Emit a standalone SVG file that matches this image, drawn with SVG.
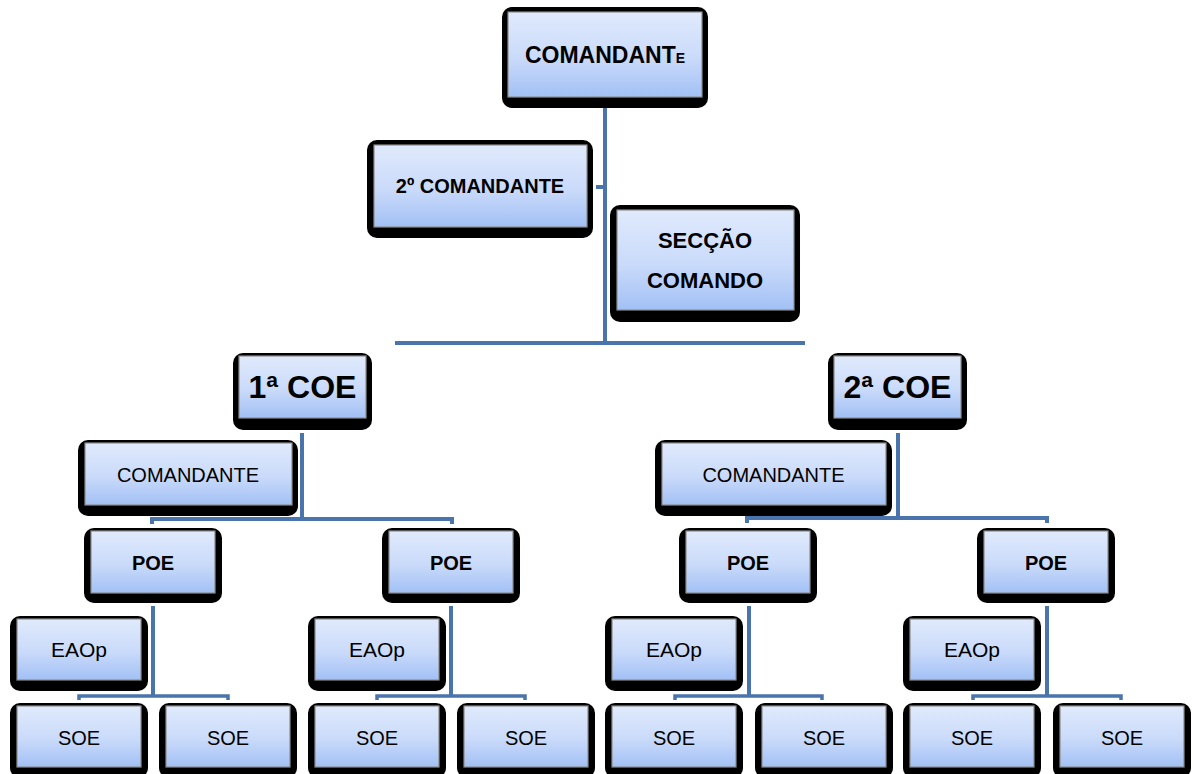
<svg xmlns="http://www.w3.org/2000/svg" width="1195" height="774" viewBox="0 0 1195 774">
<defs>
<linearGradient id="fill" x1="0" y1="0" x2="0" y2="1">
<stop offset="0" stop-color="#e0eafc"/>
<stop offset="0.55" stop-color="#c9dafa"/>
<stop offset="1" stop-color="#a2c0f5"/>
</linearGradient>
<style>
.outer{fill:#000}
.inner{fill:url(#fill);stroke:#8c8c8c;stroke-width:1.2}
.t{font-family:"Liberation Sans",Arial,sans-serif;fill:#000;text-anchor:middle}
.b{font-weight:bold}
.con{fill:none;stroke:#4a74ac;stroke-width:4}
.con3{fill:none;stroke:#4a74ac;stroke-width:3.5}
</style>
</defs>
<rect width="1195" height="774" fill="#fff"/>

<g id="connectors">
<path class="con" d="M605,108 V345"/>
<path class="con" d="M596,187 H605"/>
<path class="con" d="M395,343 H805"/>
<path class="con" d="M302,433 V519"/>
<path class="con" d="M152,524 V519 H452 V524"/>
<path class="con" d="M898,433 V518"/>
<path class="con" d="M747,523 V518 H1047 V523"/>
<path class="con" d="M153,606 V696"/>
<path class="con3" d="M79,700 V696 H228 V700"/>
<path class="con" d="M451,606 V696"/>
<path class="con3" d="M377,700 V696 H525 V700"/>
<path class="con" d="M749,606 V696"/>
<path class="con3" d="M675,700 V696 H822 V700"/>
<path class="con" d="M1047,606 V696"/>
<path class="con3" d="M973,700 V696 H1121 V700"/>
</g>

<g id="comandante">
<rect class="outer" x="502" y="7" width="206" height="101" rx="10"/>
<rect class="inner" x="508" y="12" width="194" height="85"/>
<text class="t b" x="605" y="63" font-size="23">COMANDANT<tspan font-size="14">E</tspan></text>
</g>

<g id="segundo-comandante">
<rect class="outer" x="367" y="140" width="226" height="98" rx="10"/>
<rect class="inner" x="374" y="145" width="213" height="82"/>
<text class="t b" x="480" y="193" font-size="20">2º COMANDANTE</text>
</g>

<g id="seccao-comando">
<rect class="outer" x="610" y="205" width="190" height="117" rx="10"/>
<rect class="inner" x="617" y="210" width="177" height="100"/>
<text class="t b" x="705" y="248" font-size="22">SECÇÃO</text>
<text class="t b" x="705" y="288" font-size="22">COMANDO</text>
</g>

<g id="coe1">
<rect class="outer" x="233" y="353" width="139" height="77" rx="10"/>
<rect class="inner" x="239" y="356" width="127" height="62"/>
<text class="t b" x="302.5" y="398" font-size="32">1ª COE</text>
</g>

<g id="coe2">
<rect class="outer" x="828" y="353" width="139" height="77" rx="10"/>
<rect class="inner" x="834" y="356" width="127" height="62"/>
<text class="t b" x="897.5" y="398" font-size="32">2ª COE</text>
</g>

<g id="comandante-coe1">
<rect class="outer" x="78" y="440" width="220" height="76" rx="10"/>
<rect class="inner" x="85" y="443" width="207" height="62"/>
<text class="t" x="188" y="482" font-size="20">COMANDANTE</text>
</g>

<g id="comandante-coe2">
<rect class="outer" x="655" y="440" width="237" height="76" rx="10"/>
<rect class="inner" x="662" y="443" width="224" height="62"/>
<text class="t" x="773.5" y="482" font-size="20">COMANDANTE</text>
</g>

<g id="poe1">
<rect class="outer" x="84" y="528" width="138" height="75" rx="10"/>
<rect class="inner" x="91" y="531" width="124" height="62"/>
<text class="t b" x="153" y="570" font-size="20">POE</text>
</g>
<g id="poe2">
<rect class="outer" x="382" y="528" width="138" height="75" rx="10"/>
<rect class="inner" x="389" y="531" width="124" height="62"/>
<text class="t b" x="451" y="570" font-size="20">POE</text>
</g>
<g id="poe3">
<rect class="outer" x="679" y="528" width="138" height="75" rx="10"/>
<rect class="inner" x="686" y="531" width="124" height="62"/>
<text class="t b" x="748" y="570" font-size="20">POE</text>
</g>
<g id="poe4">
<rect class="outer" x="977" y="528" width="138" height="75" rx="10"/>
<rect class="inner" x="984" y="531" width="124" height="62"/>
<text class="t b" x="1046" y="570" font-size="20">POE</text>
</g>

<g id="eaop1">
<rect class="outer" x="10" y="616" width="138" height="75" rx="10"/>
<rect class="inner" x="17" y="619" width="124" height="61"/>
<text class="t" x="79" y="657" font-size="21">EAOp</text>
</g>
<g id="eaop2">
<rect class="outer" x="308" y="616" width="138" height="75" rx="10"/>
<rect class="inner" x="315" y="619" width="124" height="61"/>
<text class="t" x="377" y="657" font-size="21">EAOp</text>
</g>
<g id="eaop3">
<rect class="outer" x="605" y="616" width="138" height="75" rx="10"/>
<rect class="inner" x="612" y="619" width="124" height="61"/>
<text class="t" x="674" y="657" font-size="21">EAOp</text>
</g>
<g id="eaop4">
<rect class="outer" x="903" y="616" width="138" height="75" rx="10"/>
<rect class="inner" x="910" y="619" width="124" height="61"/>
<text class="t" x="972" y="657" font-size="21">EAOp</text>
</g>

<g id="soe1a">
<rect class="outer" x="10" y="703" width="138" height="75" rx="10"/>
<rect class="inner" x="17" y="706" width="124" height="61"/>
<text class="t" x="79" y="745" font-size="20">SOE</text>
</g>
<g id="soe1b">
<rect class="outer" x="159" y="703" width="138" height="75" rx="10"/>
<rect class="inner" x="166" y="706" width="124" height="61"/>
<text class="t" x="228" y="745" font-size="20">SOE</text>
</g>
<g id="soe2a">
<rect class="outer" x="308" y="703" width="138" height="75" rx="10"/>
<rect class="inner" x="315" y="706" width="124" height="61"/>
<text class="t" x="377" y="745" font-size="20">SOE</text>
</g>
<g id="soe2b">
<rect class="outer" x="457" y="703" width="138" height="75" rx="10"/>
<rect class="inner" x="464" y="706" width="124" height="61"/>
<text class="t" x="526" y="745" font-size="20">SOE</text>
</g>
<g id="soe3a">
<rect class="outer" x="605" y="703" width="138" height="75" rx="10"/>
<rect class="inner" x="612" y="706" width="124" height="61"/>
<text class="t" x="674" y="745" font-size="20">SOE</text>
</g>
<g id="soe3b">
<rect class="outer" x="755" y="703" width="138" height="75" rx="10"/>
<rect class="inner" x="762" y="706" width="124" height="61"/>
<text class="t" x="824" y="745" font-size="20">SOE</text>
</g>
<g id="soe4a">
<rect class="outer" x="903" y="703" width="138" height="75" rx="10"/>
<rect class="inner" x="910" y="706" width="124" height="61"/>
<text class="t" x="972" y="745" font-size="20">SOE</text>
</g>
<g id="soe4b">
<rect class="outer" x="1053" y="703" width="138" height="75" rx="10"/>
<rect class="inner" x="1060" y="706" width="124" height="61"/>
<text class="t" x="1122" y="745" font-size="20">SOE</text>
</g>
</svg>
